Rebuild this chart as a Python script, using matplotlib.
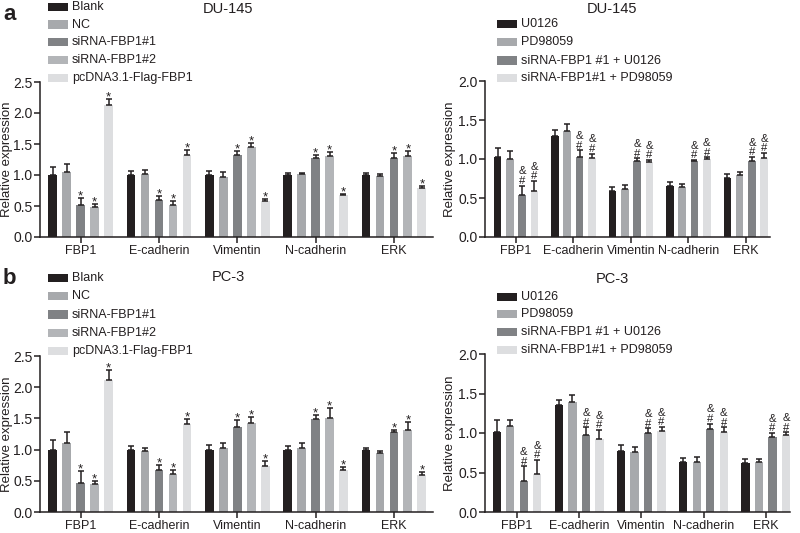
import matplotlib
matplotlib.use('Agg')
import matplotlib.pyplot as plt
from matplotlib.patches import Rectangle
import numpy as np

plt.rcParams['font.family'] = ['Liberation Sans', 'DejaVu Sans']

# ---------------- data ----------------
genes = ['FBP1', 'E-cadherin', 'Vimentin', 'N-cadherin', 'ERK']
left_groups = ['Blank', 'NC', 'siRNA-FBP1#1', 'siRNA-FBP1#2', 'pcDNA3.1-Flag-FBP1']
right_groups = ['U0126', 'PD98059', 'siRNA-FBP1 #1 + U0126', 'siRNA-FBP1#1 + PD98059']

# DU-145, left panel
du_blank = [1.00, 1.00, 1.00, 1.00, 1.00]
du_blank_err = [0.13, 0.06, 0.07, 0.03, 0.04]
du_nc = [1.05, 1.02, 0.97, 1.01, 0.98]
du_nc_err = [0.12, 0.06, 0.08, 0.03, 0.04]
du_si1 = [0.52, 0.59, 1.32, 1.28, 1.27]
du_si1_err = [0.11, 0.07, 0.06, 0.05, 0.08]
du_si2 = [0.48, 0.52, 1.45, 1.30, 1.30]
du_si2_err = [0.05, 0.06, 0.07, 0.07, 0.08]
du_pc = [2.13, 1.33, 0.58, 0.67, 0.79]
du_pc_err = [0.10, 0.08, 0.04, 0.03, 0.03]

# DU-145, right panel
du_u0126 = [1.02, 1.29, 0.59, 0.65, 0.76]
du_u0126_err = [0.12, 0.08, 0.05, 0.05, 0.05]
du_pd = [1.00, 1.36, 0.62, 0.64, 0.80]
du_pd_err = [0.10, 0.09, 0.05, 0.04, 0.03]
du_si_u = [0.54, 1.02, 0.97, 0.97, 0.98]
du_si_u_err = [0.12, 0.09, 0.04, 0.02, 0.05]
du_si_pd = [0.59, 1.01, 0.96, 1.00, 1.01]
du_si_pd_err = [0.13, 0.06, 0.03, 0.02, 0.07]

# PC-3, left panel
pc_blank = [1.00, 1.00, 1.00, 1.00, 1.00]
pc_blank_err = [0.16, 0.05, 0.08, 0.06, 0.03]
pc_nc = [1.10, 0.97, 1.03, 1.03, 0.95]
pc_nc_err = [0.18, 0.06, 0.07, 0.07, 0.03]
pc_si1 = [0.46, 0.67, 1.37, 1.49, 1.28]
pc_si1_err = [0.19, 0.09, 0.10, 0.07, 0.04]
pc_si2 = [0.45, 0.61, 1.42, 1.51, 1.32]
pc_si2_err = [0.05, 0.07, 0.10, 0.15, 0.13]
pc_pc = [2.12, 1.41, 0.73, 0.67, 0.60]
pc_pc_err = [0.16, 0.08, 0.09, 0.05, 0.04]

# PC-3, right panel
pc_u0126 = [1.01, 1.35, 0.77, 0.63, 0.62]
pc_u0126_err = [0.15, 0.07, 0.08, 0.05, 0.05]
pc_pd = [1.09, 1.39, 0.76, 0.63, 0.63]
pc_pd_err = [0.07, 0.09, 0.06, 0.06, 0.04]
pc_si_u = [0.39, 0.97, 1.00, 1.05, 0.95]
pc_si_u_err = [0.19, 0.10, 0.06, 0.07, 0.05]
pc_si_pd = [0.48, 0.93, 1.02, 1.01, 0.98]
pc_si_pd_err = [0.18, 0.11, 0.06, 0.06, 0.03]

# ---------------- style ----------------
left_colors = ['#231f20', '#a7a9ac', '#808285', '#b3b5b8', '#dddee0']
right_colors = ['#231f20', '#a7a9ac', '#808285', '#dddee0']
INK = '#231f20'

W, H = 800, 533
fig = plt.figure(figsize=(W / 100, H / 100), dpi=100)


def fx(px):
    return px / W


def fy(py):
    return 1 - py / H


def make_axes(x0, x1, y_top, y_zero):
    return fig.add_axes([fx(x0), fy(y_zero), (x1 - x0) / W, (y_zero - y_top) / H])


def draw_panel(ax, means, errs, colors, gap, xlim, ytop, marks):
    n = len(means)
    offsets = np.arange(n) - (n - 1) / 2
    centers = np.arange(len(genes)) * gap
    for j in range(n):
        x = centers + offsets[j]
        m = np.array(means[j])
        e = np.array(errs[j])
        ax.bar(x, m, width=0.62, color=colors[j], zorder=2, linewidth=0)
        ax.errorbar(x, m, yerr=[np.zeros_like(e), e], fmt='none', ecolor=INK,
                    elinewidth=1.1, capsize=2.3, capthick=1.1, zorder=3)
        if marks == 'star' and j >= 2:
            for xi, top in zip(x, m + e):
                ax.annotate('*', (xi, top), xytext=(0, -3.2), textcoords='offset points',
                            ha='center', va='bottom', fontsize=9.5, color=INK)
        if marks == 'hash' and j >= 2:
            for xi, top in zip(x, m + e):
                ax.annotate('#', (xi, top), xytext=(0, 1.2), textcoords='offset points',
                            ha='center', va='baseline', fontsize=8.2, color=INK)
                ax.annotate('&', (xi, top), xytext=(0, 8.0), textcoords='offset points',
                            ha='center', va='baseline', fontsize=8.2, color=INK)
    ax.set_xlim(*xlim)
    ax.set_ylim(0, ytop)
    ax.set_yticks(np.arange(0, ytop + 0.01, 0.5))
    ax.set_yticklabels([f'{v:.1f}' for v in np.arange(0, ytop + 0.01, 0.5)])
    ax.set_xticks(centers)
    ax.set_xticklabels(genes)
    for s in ['top', 'right']:
        ax.spines[s].set_visible(False)
    for s in ['left', 'bottom']:
        ax.spines[s].set_linewidth(1.1)
        ax.spines[s].set_color(INK)
    ax.tick_params(axis='y', length=4, width=1.1, color=INK, labelsize=10, pad=1.5, labelcolor=INK)
    ax.tick_params(axis='x', length=4, width=1.1, color=INK, labelsize=9, pad=2, labelcolor=INK)
    ax.set_ylabel('Relative expression', fontsize=9.5, color=INK)
    ax.patch.set_alpha(0)


def legend(labels, colors, x_sq, rows):
    for lab, col, yc in zip(labels, colors, rows):
        fig.add_artist(Rectangle((fx(x_sq), fy(yc + 4.3)), 20 / W, 8.6 / H,
                                 transform=fig.transFigure, color=col, linewidth=0))
        fig.text(fx(x_sq + 24), fy(yc), lab, fontsize=9, color=INK, ha='left', va='center')


# panel a, DU-145
ax1 = make_axes(40, 433, 82, 237)
draw_panel(ax1, [du_blank, du_nc, du_si1, du_si2, du_pc],
           [du_blank_err, du_nc_err, du_si1_err, du_si2_err, du_pc_err],
           left_colors, 5.6, (-2.9, 25.2), 2.5, 'star')
ax1.yaxis.set_label_coords(-0.069, 0.5)

ax2 = make_axes(485, 770, 81, 237)
draw_panel(ax2, [du_u0126, du_pd, du_si_u, du_si_pd],
           [du_u0126_err, du_pd_err, du_si_u_err, du_si_pd_err],
           right_colors, 4.67, (-2.52, 20.65), 2.0, 'hash')
ax2.yaxis.set_label_coords(-0.102, 0.5)

# panel b, PC-3
ax3 = make_axes(40, 433, 356, 512)
draw_panel(ax3, [pc_blank, pc_nc, pc_si1, pc_si2, pc_pc],
           [pc_blank_err, pc_nc_err, pc_si1_err, pc_si2_err, pc_pc_err],
           left_colors, 5.6, (-2.9, 25.2), 2.5, 'star')
ax3.yaxis.set_label_coords(-0.069, 0.5)

ax4 = make_axes(485, 790, 354, 512)
draw_panel(ax4, [pc_u0126, pc_pd, pc_si_u, pc_si_pd],
           [pc_u0126_err, pc_pd_err, pc_si_u_err, pc_si_pd_err],
           right_colors, 4.6, (-2.37, 20.2), 2.0, 'hash')
ax4.yaxis.set_label_coords(-0.096, 0.5)

# titles and panel letters
fig.text(fx(228), fy(9), 'DU-145', fontsize=10.5, color=INK, ha='center', va='center')
fig.text(fx(612), fy(9), 'DU-145', fontsize=10.5, color=INK, ha='center', va='center')
fig.text(fx(228), fy(277), 'PC-3', fontsize=10.5, color=INK, ha='center', va='center')
fig.text(fx(612), fy(279), 'PC-3', fontsize=10.5, color=INK, ha='center', va='center')
fig.text(fx(3), fy(15), 'a', fontsize=16, fontweight='bold', color=INK, ha='left', va='center')
fig.text(fx(3), fy(279), 'b', fontsize=16, fontweight='bold', color=INK, ha='left', va='center')

# legends
legend(left_groups, left_colors, 48, [7, 24.5, 42, 60, 78])
legend(right_groups, right_colors, 497, [24, 42, 60.5, 78])
legend(left_groups, left_colors, 48, [278, 296, 314.5, 333, 351])
legend(right_groups, right_colors, 497, [297, 314, 332, 350])

fig.savefig('out.png', dpi=100)
